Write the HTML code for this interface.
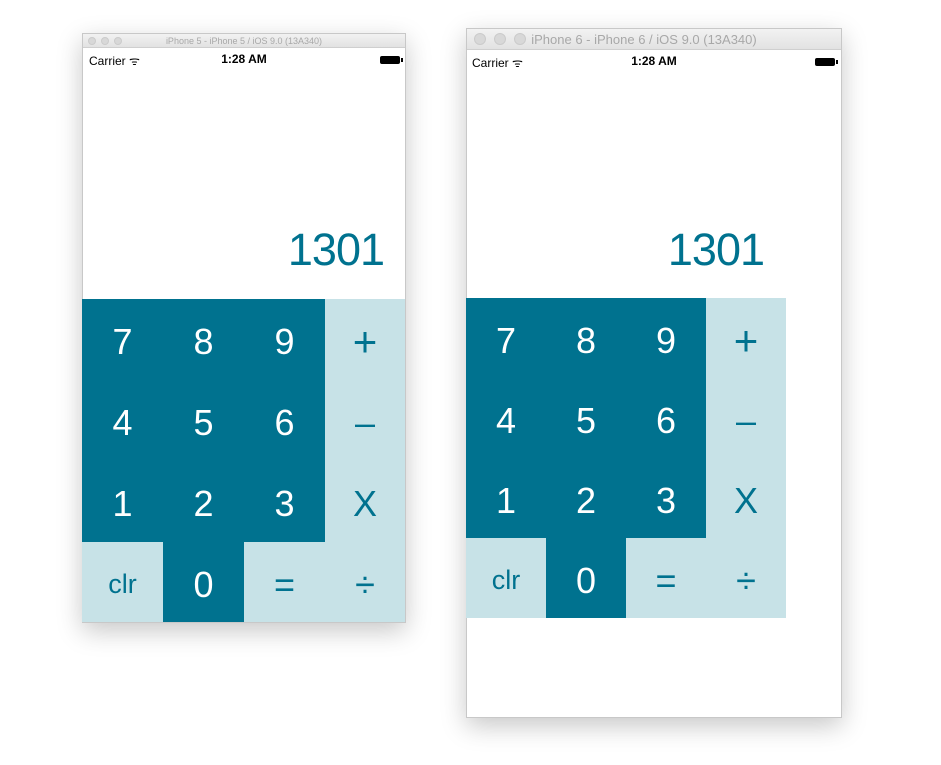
<!DOCTYPE html>
<html><head><meta charset="utf-8"><style>
body{margin:0;width:941px;height:765px;background:#fff;position:relative;overflow:hidden;font-family:"Liberation Sans",sans-serif}
.win{position:absolute;background:#fff;border:1px solid #c8c8c8;box-shadow:0 8px 24px rgba(0,0,0,.22)}
.tb{position:absolute;left:0;right:0;top:0;background:linear-gradient(#f2f2f2,#e2e2e2);border-bottom:1px solid #cfcfcf;color:#a8a8a8;text-align:center}
.dot{position:absolute;border-radius:50%;background:#d8d8d8;border:1px solid #cbcbcb}
.sb{position:absolute;left:0;right:0;font-size:12px;color:#000}
.c{position:absolute;display:flex;align-items:center;justify-content:center;font-weight:300;padding-top:5px;box-sizing:border-box}
.d{background:#00728f;color:#fff}
.l{background:#c7e2e7;color:#00728f}
.disp{position:absolute;color:#00728f;font-size:45px;font-weight:300;letter-spacing:-1px}
.bat{position:absolute;width:20px;height:8px;background:#000;border-radius:2px}
.bat:after{content:"";position:absolute;right:-3px;top:2px;width:2px;height:4px;background:#000}
</style></head><body>

<div class="win" style="left:82px;top:33px;width:322px;height:588px">
 <div class="tb" style="height:13px;font-size:9px;line-height:14px">iPhone 5 - iPhone 5 / iOS 9.0 (13A340)</div>
 <div class="dot" style="left:5px;top:3px;width:6px;height:6px"></div>
 <div class="dot" style="left:18px;top:3px;width:6px;height:6px"></div>
 <div class="dot" style="left:31px;top:3px;width:6px;height:6px"></div>
 <div class="sb" style="top:18px">
  <span style="position:absolute;left:6px">Carrier ᯤ</span>
  <span style="position:absolute;left:0;right:0;text-align:center;font-weight:bold">1:28 AM</span>
  <div class="bat" style="right:5px;top:4px"></div>
 </div>
 <div class="disp" style="right:21px;top:190px">1301</div>
</div>
<div style="position:absolute;left:82px;top:299px;width:323px;height:323px;font-size:36px">
 <div class="c d" style="left:0;top:0;width:81px;height:81px">7</div>
 <div class="c d" style="left:81px;top:0;width:81px;height:81px">8</div>
 <div class="c d" style="left:162px;top:0;width:81px;height:81px">9</div>
 <div class="c l" style="left:243px;top:0;width:80px;height:81px;font-size:42px">+</div>
 <div class="c d" style="left:0;top:81px;width:81px;height:81px">4</div>
 <div class="c d" style="left:81px;top:81px;width:81px;height:81px">5</div>
 <div class="c d" style="left:162px;top:81px;width:81px;height:81px">6</div>
 <div class="c l" style="left:243px;top:81px;width:80px;height:81px">–</div>
 <div class="c d" style="left:0;top:162px;width:81px;height:81px">1</div>
 <div class="c d" style="left:81px;top:162px;width:81px;height:81px">2</div>
 <div class="c d" style="left:162px;top:162px;width:81px;height:81px">3</div>
 <div class="c l" style="left:243px;top:162px;width:80px;height:81px">X</div>
 <div class="c l" style="left:0;top:243px;width:81px;height:80px;font-size:27px">clr</div>
 <div class="c d" style="left:81px;top:243px;width:81px;height:80px">0</div>
 <div class="c l" style="left:162px;top:243px;width:81px;height:80px">=</div>
 <div class="c l" style="left:243px;top:243px;width:80px;height:80px">÷</div>
</div>

<div class="win" style="left:466px;top:28px;width:374px;height:688px">
 <div class="tb" style="height:20px;font-size:13px;line-height:21px;text-indent:-20px">iPhone 6 - iPhone 6 / iOS 9.0 (13A340)</div>
 <div class="dot" style="left:7px;top:4px;width:10px;height:10px"></div>
 <div class="dot" style="left:27px;top:4px;width:10px;height:10px"></div>
 <div class="dot" style="left:47px;top:4px;width:10px;height:10px"></div>
 <div class="sb" style="top:25px">
  <span style="position:absolute;left:5px">Carrier ᯤ</span>
  <span style="position:absolute;left:0;right:0;text-align:center;font-weight:bold">1:28 AM</span>
  <div class="bat" style="right:6px;top:4px"></div>
 </div>
 <div class="disp" style="right:77px;top:195px">1301</div>
</div>
<div style="position:absolute;left:466px;top:298px;width:320px;height:320px;font-size:36px">
 <div class="c d" style="left:0;top:0;width:80px;height:80px">7</div>
 <div class="c d" style="left:80px;top:0;width:80px;height:80px">8</div>
 <div class="c d" style="left:160px;top:0;width:80px;height:80px">9</div>
 <div class="c l" style="left:240px;top:0;width:80px;height:80px;font-size:42px">+</div>
 <div class="c d" style="left:0;top:80px;width:80px;height:80px">4</div>
 <div class="c d" style="left:80px;top:80px;width:80px;height:80px">5</div>
 <div class="c d" style="left:160px;top:80px;width:80px;height:80px">6</div>
 <div class="c l" style="left:240px;top:80px;width:80px;height:80px">–</div>
 <div class="c d" style="left:0;top:160px;width:80px;height:80px">1</div>
 <div class="c d" style="left:80px;top:160px;width:80px;height:80px">2</div>
 <div class="c d" style="left:160px;top:160px;width:80px;height:80px">3</div>
 <div class="c l" style="left:240px;top:160px;width:80px;height:80px">X</div>
 <div class="c l" style="left:0;top:240px;width:80px;height:80px;font-size:27px">clr</div>
 <div class="c d" style="left:80px;top:240px;width:80px;height:80px">0</div>
 <div class="c l" style="left:160px;top:240px;width:80px;height:80px">=</div>
 <div class="c l" style="left:240px;top:240px;width:80px;height:80px">÷</div>
</div>
</body></html>
